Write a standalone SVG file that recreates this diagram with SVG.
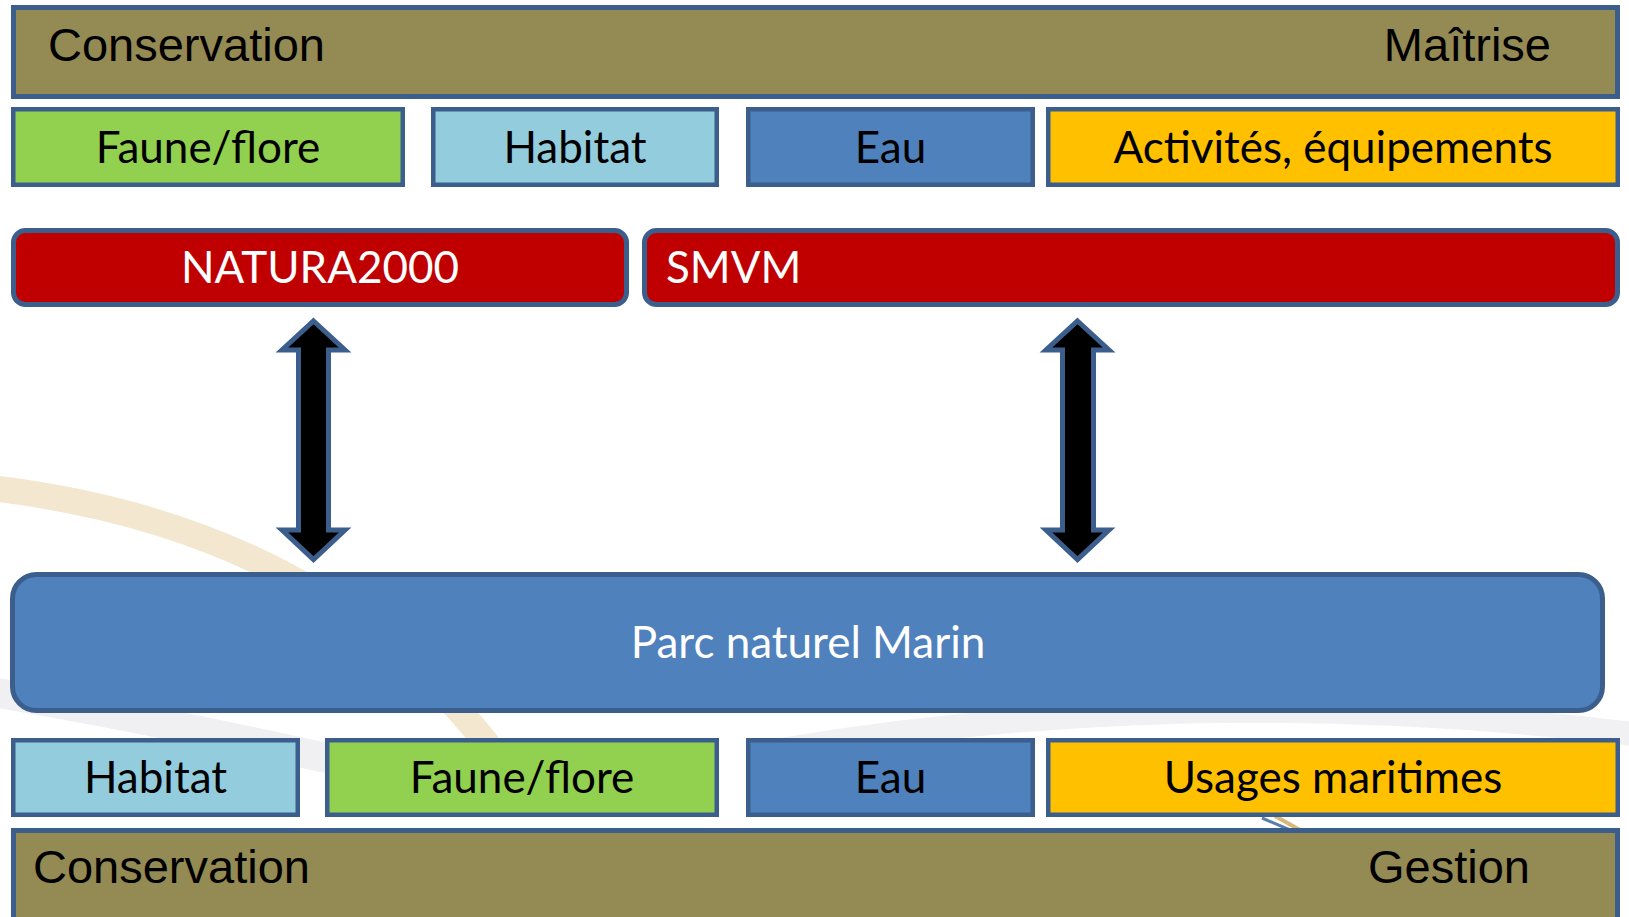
<svg xmlns="http://www.w3.org/2000/svg" width="1629" height="917" viewBox="0 0 1629 917">
  <defs>
    <style>
      .bar { fill: #948A54; stroke: #3B5E8C; stroke-width: 5; }
      .box { stroke: #3B5E8C; stroke-width: 4.5; }
      .red { fill: #C00000; stroke: #3B5E8C; stroke-width: 5; }
      .green { fill: #92D050; }
      .lblue { fill: #93CDDD; }
      .blue { fill: #4F81BD; }
      .yellow { fill: #FFC000; }
      .arial { font-family: "Liberation Sans", Arial, sans-serif; font-size: 47px; fill: #000; }
      .cal { font-family: Lato, "Open Sans", sans-serif; font-size: 44px; fill: #000; text-anchor: middle; }
      .start { text-anchor: start; }
      .white { fill: #FFFFFF; }
      .arrow { fill: #000; stroke: #3B5E8C; stroke-width: 5; stroke-linejoin: miter; }
    </style>
  </defs>
  <rect width="1629" height="917" fill="#FFFFFF"/>
  <g id="background" fill="none">
    <path d="M -10 488 Q 350 530 520 790" stroke="#F3E7D0" stroke-width="26" stroke-linecap="round"/>
    <path d="M -20 690 Q 160 720 380 770" stroke="#F0F0F3" stroke-width="30"/>
    <path d="M 780 750 Q 1200 680 1640 735" stroke="#F1F1F4" stroke-width="24"/>
    <path d="M 1262 818 L 1290 830" stroke="#5A7FA8" stroke-width="3"/>
    <path d="M 1275 816 L 1300 830" stroke="#D8B87A" stroke-width="4"/>
  </g>

  <g id="top-bar">
    <rect class="bar" x="13.5" y="7.5" width="1604" height="89"/>
    <text class="arial" x="48" y="61">Conservation</text>
    <text class="arial" x="1551" y="61" text-anchor="end">Maîtrise</text>
  </g>

  <g id="top-faune">
    <rect class="box green" x="13.25" y="109.25" width="389.5" height="75.5"/>
    <text class="cal" x="208" y="163">Faune/flore</text>
  </g>
  <g id="top-habitat">
    <rect class="box lblue" x="433.25" y="109.25" width="283.5" height="75.5"/>
    <text class="cal" x="575" y="163">Habitat</text>
  </g>
  <g id="top-eau">
    <rect class="box blue" x="748.25" y="109.25" width="284.5" height="75.5"/>
    <text class="cal" x="890.5" y="163">Eau</text>
  </g>
  <g id="top-activites">
    <rect class="box yellow" x="1048.25" y="109.25" width="569.5" height="75.5"/>
    <text class="cal" x="1333" y="163">Activités, équipements</text>
  </g>

  <g id="natura2000">
    <rect class="red" x="13.5" y="230.5" width="613" height="74" rx="12"/>
    <text class="cal white" x="320" y="283">NATURA2000</text>
  </g>
  <g id="smvm">
    <rect class="red" x="644.5" y="230.5" width="973" height="74" rx="12"/>
    <text class="cal white start" x="666" y="283">SMVM</text>
  </g>

  <g id="connectors">
    <path class="arrow" d="M 313.5 321 L 345 350 L 328.5 350 L 328.5 530 L 345 530 L 313.5 559.5 L 282 530 L 298.5 530 L 298.5 350 L 282 350 Z"/>
    <path class="arrow" d="M 1077.5 321 L 1109 350 L 1093.5 350 L 1093.5 530 L 1109 530 L 1077.5 559.5 L 1046 530 L 1062.5 530 L 1062.5 350 L 1046 350 Z"/>
  </g>

  <g id="parc">
    <rect x="12.5" y="574.5" width="1590" height="136" rx="24" fill="#4F81BD" stroke="#3B5E8C" stroke-width="5"/>
    <text class="cal white" x="808" y="658">Parc naturel Marin</text>
  </g>

  <g id="bottom-habitat">
    <rect class="box lblue" x="13.25" y="740.25" width="284.5" height="74.5"/>
    <text class="cal" x="155.5" y="793">Habitat</text>
  </g>
  <g id="bottom-faune">
    <rect class="box green" x="327.25" y="740.25" width="389.5" height="74.5"/>
    <text class="cal" x="522" y="793">Faune/flore</text>
  </g>
  <g id="bottom-eau">
    <rect class="box blue" x="748.25" y="740.25" width="284.5" height="74.5"/>
    <text class="cal" x="890.5" y="793">Eau</text>
  </g>
  <g id="bottom-usages">
    <rect class="box yellow" x="1048.25" y="740.25" width="569.5" height="74.5"/>
    <text class="cal" x="1333" y="793">Usages maritimes</text>
  </g>

  <g id="bottom-bar">
    <rect class="bar" x="13.5" y="830.5" width="1604" height="120"/>
    <text class="arial" x="33" y="883">Conservation</text>
    <text class="arial" x="1530" y="883" text-anchor="end">Gestion</text>
  </g>
</svg>
